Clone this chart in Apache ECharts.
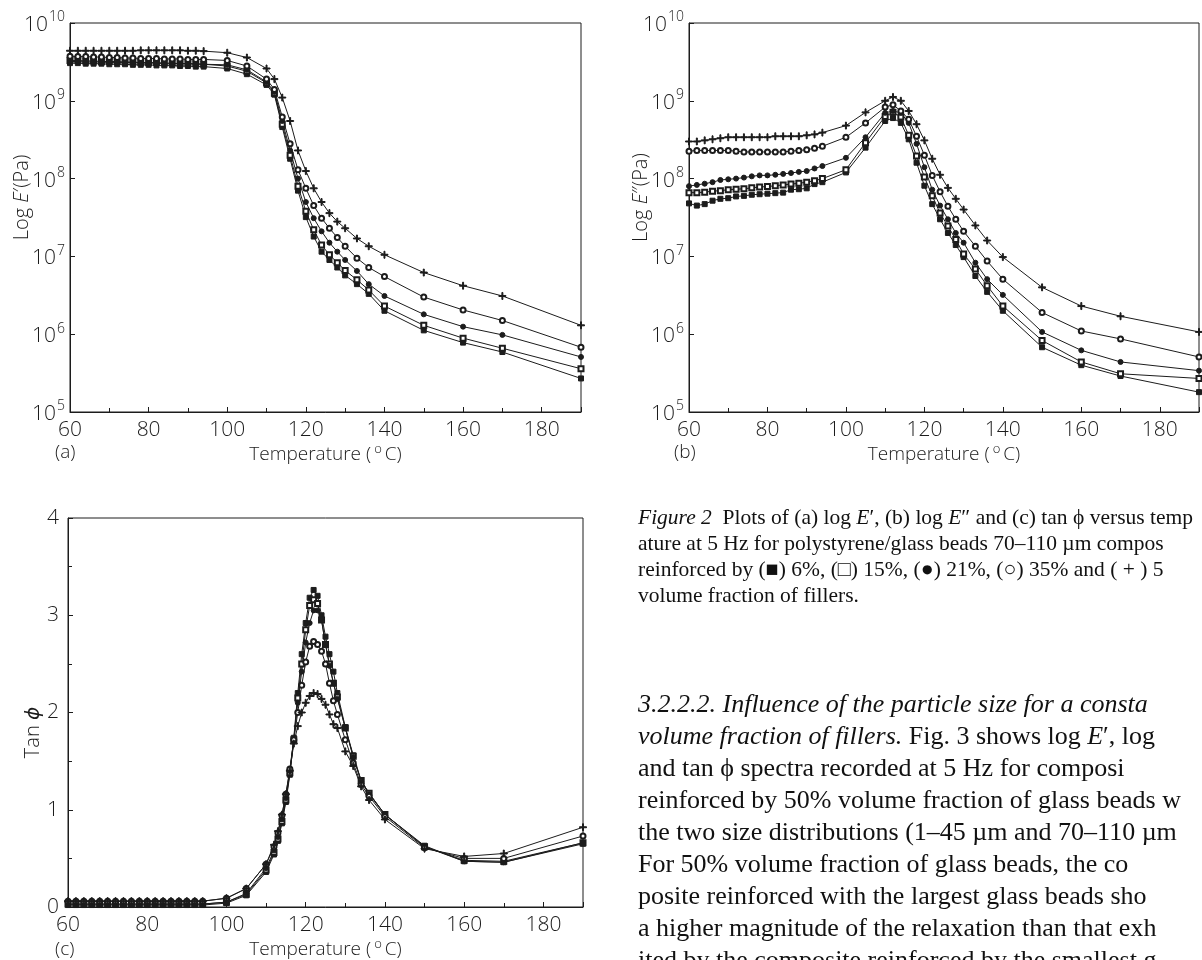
<!DOCTYPE html>
<html>
<head>
<meta charset="utf-8">
<script src="https://cdn.jsdelivr.net/npm/echarts@6/dist/echarts.min.js"></script>
<style>
  html, body { margin: 0; padding: 0; background: #fff; }
  #chart { width: 1202px; height: 960px; }
</style>
</head>
<body>
<div id="chart"></div>
<script>
// Temperatures (°C) of the measurement points, panels (a) and (b)
const tempAB = [60,62,64,66,68,70,72,74,76,78,80,82,84,86,88,90,92,94,
  100,105,110,112,114,116,118,120,122,124,126,128,130,133,136,140,150,160,170,190];

// Storage modulus E' (Pa) for 6, 15, 21, 35 and 50 % glass beads
const ePrime6 = [3.05e9,3.05e9,3.0e9,3.0e9,3.0e9,2.95e9,2.95e9,2.95e9,2.9e9,2.9e9,2.9e9,2.85e9,2.85e9,2.85e9,2.8e9,2.8e9,2.75e9,2.75e9,
  2.6e9,2.2e9,1.6e9,1.2e9,4.6e8,1.8e8,7.0e7,3.2e7,1.8e7,1.15e7,9.0e6,7.2e6,5.7e6,4.4e6,3.3e6,2.0e6,1.12e6,7.8e5,5.9e5,2.7e5];
const ePrime15 = [3.3e9,3.3e9,3.25e9,3.25e9,3.2e9,3.2e9,3.2e9,3.15e9,3.15e9,3.1e9,3.1e9,3.1e9,3.05e9,3.05e9,3.0e9,3.0e9,3.0e9,2.95e9,
  2.8e9,2.4e9,1.7e9,1.25e9,5.0e8,2.0e8,8.0e7,3.8e7,2.2e7,1.4e7,1.05e7,8.3e6,6.6e6,5.0e6,3.7e6,2.3e6,1.3e6,8.9e5,6.6e5,3.6e5];
const ePrime21 = [3.2e9,3.2e9,3.15e9,3.15e9,3.15e9,3.1e9,3.1e9,3.1e9,3.1e9,3.05e9,3.05e9,3.05e9,3.0e9,3.0e9,3.0e9,3.0e9,2.95e9,2.95e9,
  2.9e9,2.5e9,1.75e9,1.3e9,5.5e8,2.3e8,1.0e8,5.0e7,3.1e7,2.1e7,1.5e7,1.15e7,9.0e6,6.5e6,4.4e6,3.1e6,1.8e6,1.25e6,9.8e5,5.1e5];
const ePrime35 = [3.75e9,3.7e9,3.7e9,3.65e9,3.65e9,3.6e9,3.6e9,3.55e9,3.55e9,3.5e9,3.5e9,3.5e9,3.45e9,3.45e9,3.45e9,3.4e9,3.4e9,3.4e9,
  3.3e9,2.8e9,1.9e9,1.4e9,6.2e8,2.8e8,1.3e8,7.5e7,4.5e7,3.1e7,2.3e7,1.75e7,1.35e7,9.5e6,7.2e6,5.5e6,3.0e6,2.05e6,1.5e6,6.8e5];
const ePrime50 = [4.4e9,4.4e9,4.4e9,4.4e9,4.4e9,4.4e9,4.4e9,4.4e9,4.4e9,4.45e9,4.45e9,4.45e9,4.45e9,4.45e9,4.45e9,4.4e9,4.4e9,4.35e9,
  4.15e9,3.6e9,2.6e9,1.9e9,1.1e9,5.5e8,2.3e8,1.25e8,7.5e7,5.0e7,3.6e7,2.8e7,2.3e7,1.7e7,1.35e7,1.05e7,6.2e6,4.2e6,3.1e6,1.3e6];

// Loss modulus E'' (Pa)
const eDouble6 = [4.8e7,4.5e7,4.7e7,5.2e7,5.5e7,5.6e7,5.9e7,6.0e7,6.2e7,6.3e7,6.4e7,6.5e7,6.6e7,7.2e7,7.3e7,7.5e7,8.5e7,9.0e7,
  1.2e8,2.5e8,5.5e8,6.0e8,5.2e8,3.2e8,1.6e8,8.1e7,4.7e7,3.0e7,2.0e7,1.4e7,9.8e6,5.6e6,3.5e6,2.0e6,6.8e5,4.0e5,2.9e5,1.8e5];
const eDouble15 = [6.6e7,6.6e7,6.7e7,6.9e7,7.0e7,7.2e7,7.3e7,7.4e7,7.6e7,7.8e7,7.9e7,8.1e7,8.3e7,8.5e7,8.7e7,9.0e7,9.4e7,1.0e8,
  1.3e8,2.9e8,6.3e8,7.1e8,6.2e8,3.6e8,1.95e8,1.05e8,6.0e7,3.6e7,2.45e7,1.65e7,1.07e7,6.9e6,4.2e6,2.3e6,8.3e5,4.4e5,3.1e5,2.7e5];
const eDouble21 = [8.0e7,8.3e7,8.6e7,9.0e7,9.6e7,9.8e7,1.0e8,1.03e8,1.07e8,1.1e8,1.1e8,1.12e8,1.15e8,1.18e8,1.22e8,1.25e8,1.35e8,1.45e8,
  1.85e8,3.4e8,7.0e8,7.4e8,7.0e8,5.2e8,2.8e8,1.4e8,7.2e7,4.5e7,3.0e7,2.0e7,1.5e7,8.3e6,5.1e6,3.2e6,1.07e6,6.2e5,4.4e5,3.4e5];
const eDouble35 = [2.25e8,2.3e8,2.3e8,2.3e8,2.3e8,2.3e8,2.25e8,2.2e8,2.2e8,2.2e8,2.2e8,2.2e8,2.2e8,2.25e8,2.3e8,2.35e8,2.45e8,2.6e8,
  3.4e8,5.2e8,8.3e8,8.9e8,7.4e8,5.8e8,3.5e8,2.0e8,1.1e8,6.8e7,4.4e7,3.0e7,2.1e7,1.35e7,8.7e6,5.1e6,1.9e6,1.1e6,8.7e5,5.1e5];
const eDouble50 = [3.0e8,3.0e8,3.1e8,3.2e8,3.3e8,3.4e8,3.4e8,3.4e8,3.4e8,3.4e8,3.4e8,3.5e8,3.5e8,3.5e8,3.5e8,3.6e8,3.7e8,3.9e8,
  4.8e8,7.1e8,1.0e9,1.12e9,1.0e9,7.4e8,5.0e8,3.1e8,1.8e8,1.12e8,7.6e7,5.5e7,4.0e7,2.5e7,1.6e7,9.8e6,4.0e6,2.3e6,1.7e6,1.07e6];

// Temperatures (°C) for the loss tangent, panel (c)
const tempC = [60,62,64,66,68,70,72,74,76,78,80,82,84,86,88,90,92,94,
  100,105,110,112,113,114,115,116,117,118,119,120,121,122,123,124,125,126,127,128,130,132,134,136,140,150,160,170,190];

// tan φ
const tan6 = [0.02,0.02,0.02,0.02,0.02,0.02,0.02,0.02,0.02,0.02,0.02,0.02,0.02,0.02,0.02,0.02,0.02,0.02,
  0.04,0.12,0.36,0.54,0.68,0.86,1.08,1.36,1.74,2.2,2.6,2.92,3.18,3.26,3.2,3.0,2.78,2.6,2.42,2.2,1.85,1.56,1.3,1.17,0.95,0.63,0.47,0.46,0.65];
const tan15 = [0.03,0.03,0.03,0.03,0.03,0.03,0.03,0.03,0.03,0.03,0.03,0.03,0.03,0.03,0.03,0.03,0.03,0.03,
  0.05,0.13,0.38,0.56,0.70,0.88,1.10,1.38,1.72,2.15,2.5,2.85,3.1,3.16,3.12,2.95,2.7,2.5,2.3,2.16,1.84,1.55,1.3,1.17,0.95,0.62,0.48,0.47,0.66];
const tan21 = [0.03,0.03,0.03,0.03,0.03,0.03,0.03,0.03,0.03,0.03,0.03,0.03,0.03,0.03,0.03,0.03,0.03,0.03,
  0.05,0.14,0.40,0.58,0.72,0.90,1.12,1.40,1.72,2.1,2.42,2.72,2.92,3.05,3.05,2.95,2.7,2.48,2.3,2.14,1.84,1.54,1.29,1.16,0.95,0.62,0.47,0.46,0.66];
const tan35 = [0.06,0.06,0.06,0.06,0.06,0.06,0.06,0.06,0.06,0.06,0.06,0.06,0.06,0.06,0.06,0.06,0.06,0.06,
  0.09,0.19,0.44,0.62,0.76,0.94,1.16,1.42,1.72,2.0,2.28,2.52,2.68,2.73,2.70,2.63,2.5,2.3,2.12,1.98,1.72,1.48,1.26,1.14,0.93,0.61,0.50,0.50,0.73];
const tan50 = [0.06,0.06,0.06,0.06,0.06,0.06,0.06,0.06,0.06,0.06,0.06,0.06,0.06,0.06,0.06,0.06,0.06,0.06,
  0.09,0.19,0.44,0.64,0.78,0.95,1.16,1.40,1.68,1.86,2.0,2.1,2.17,2.2,2.19,2.14,2.08,1.98,1.88,1.84,1.6,1.45,1.24,1.1,0.9,0.60,0.52,0.55,0.82];

// Axis tick values
const tempTicks = [60, 80, 100, 120, 140, 160, 180];
const tanTicks = [0, 1, 2, 3, 4];

// Caption and running text
const captionLines = [
  '{i|Figure 2}  Plots of (a) log {i|E}′, (b) log {i|E}″ and (c) tan ϕ versus temp',
  'ature at 5 Hz for polystyrene/glass beads 70–110 µm compos',
  'reinforced by (■) 6%, (□) 15%, (●) 21%, (○) 35% and ( + ) 5',
  'volume fraction of fillers.'
];
const bodyLines = [
  '{i|3.2.2.2. Influence of the particle size for a consta}',
  '{i|volume fraction of fillers.} Fig. 3 shows log {i|E}′, log',
  'and tan ϕ spectra recorded at 5 Hz for composi',
  'reinforced by 50% volume fraction of glass beads w',
  'the two size distributions (1–45 µm and 70–110 µm',
  'For 50% volume fraction of glass beads, the co',
  'posite reinforced with the largest glass beads sho',
  'a higher magnitude of the relaxation than that exh',
  'ited by the composite reinforced by the smallest g'
];

const INK = '#1c1c1c';
const FONT = '"Open Sans", "DejaVu Sans", sans-serif';
const SERIF = '"Liberation Serif", "DejaVu Serif", serif';

const markers = [
  { symbol: 'rect', size: 5 },
  { symbol: 'emptyRect', size: 5 },
  { symbol: 'circle', size: 5 },
  { symbol: 'emptyCircle', size: 5 },
  { symbol: 'path://M4.3,0H5.7V10H4.3Z M0,4.3H10V5.7H0Z', size: 7 }
];
const labels = ['6%', '15%', '21%', '35%', '50%'];

function makeSeries(axisIdx, temps, sets) {
  return sets.map((vals, k) => ({
    type: 'line',
    name: labels[k],
    xAxisIndex: axisIdx,
    yAxisIndex: axisIdx,
    data: temps.map((t, i) => [t, vals[i]]),
    symbol: markers[k].symbol,
    symbolSize: markers[k].size,
    showAllSymbol: true,
    lineStyle: { color: INK, width: 1 },
    itemStyle: { color: INK, borderColor: INK, borderWidth: 1 },
    emphasis: { disabled: true },
    z: 3
  }));
}

function xAxisFor(gridIndex) {
  return {
    gridIndex,
    type: 'value',
    min: 60, max: 190, interval: 20,
    axisLine: { show: true, lineStyle: { color: INK, width: 1 } },
    axisTick: { show: true, inside: true, length: 5, lineStyle: { color: INK } },
    minorTick: { show: true, splitNumber: 2, length: 4, lineStyle: { color: INK } },
    splitLine: { show: false },
    axisLabel: {
      color: INK, fontFamily: FONT, fontSize: 21, fontWeight: 300, margin: 8,
      formatter: v => (tempTicks.indexOf(v) >= 0 ? String(v) : '')
    },
    name: 'Temperature ({o|o}C)',
    nameLocation: 'middle',
    nameGap: 31,
    nameMoveOverlap: false,
    nameTextStyle: {
      color: INK, fontFamily: FONT, fontSize: 19, fontWeight: 300,
      rich: {
        o: { fontSize: 13, fontFamily: FONT, fontWeight: 300, color: INK, padding: [0, 3, 10, 3], verticalAlign: 'bottom' }
      }
    }
  };
}

function logAxisFor(gridIndex, nameText) {
  return {
    gridIndex,
    type: 'log',
    logBase: 10,
    min: 1e5, max: 1e10,
    splitNumber: 5,
    axisLine: { show: true, lineStyle: { color: INK, width: 1 } },
    axisTick: { show: true, inside: true, length: 5, lineStyle: { color: INK } },
    splitLine: { show: false },
    axisLabel: {
      margin: 5,
      formatter: v => '{b|10}{s|' + Math.round(Math.log10(v)) + '}',
      rich: {
        b: { fontFamily: FONT, fontSize: 21, fontWeight: 300, color: INK, verticalAlign: 'bottom' },
        s: { fontFamily: FONT, fontSize: 14, fontWeight: 300, color: INK, padding: [0, 0, 11, 1], verticalAlign: 'bottom' }
      }
    },
    name: nameText,
    nameLocation: 'middle',
    nameGap: 38,
    nameMoveOverlap: false,
    nameRotate: 90,
    nameTextStyle: {
      padding: [0, 0, 0, 40],
      rich: {
        n: { fontFamily: FONT, fontSize: 20, fontWeight: 300, color: INK },
        i: { fontFamily: FONT, fontSize: 20, fontWeight: 300, fontStyle: 'italic', color: INK }
      }
    }
  };
}

const graphics = [];
[['(a)', 55, 453], ['(b)', 674, 453], ['(c)', 55, 950]].forEach(([t, x, y]) => {
  graphics.push({
    type: 'text', x, y,
    style: { text: t, fill: INK, fontFamily: FONT, fontSize: 19, fontWeight: 300, align: 'left', verticalAlign: 'middle' }
  });
});
captionLines.forEach((line, k) => {
  graphics.push({
    type: 'text', x: 638, y: 518 + k * 26,
    style: {
      text: line, fill: '#111', fontFamily: SERIF, fontSize: 21.5, align: 'left', verticalAlign: 'middle',
      rich: {
        i: { fontFamily: SERIF, fontSize: 21.5, fontStyle: 'italic', fill: '#111' }
      }
    }
  });
});
bodyLines.forEach((line, k) => {
  graphics.push({
    type: 'text', x: 638, y: 705 + k * 32,
    style: {
      text: line, fill: '#111', fontFamily: SERIF, fontSize: 26, align: 'left', verticalAlign: 'middle',
      rich: {
        i: { fontFamily: SERIF, fontSize: 26, fontStyle: 'italic', fill: '#111' }
      }
    }
  });
});

const tanAxis = {
  gridIndex: 2,
  type: 'value',
  min: 0, max: 4, interval: 1,
  axisLine: { show: true, lineStyle: { color: INK, width: 1 } },
  axisTick: { show: true, inside: true, length: 5, lineStyle: { color: INK } },
  minorTick: { show: true, splitNumber: 2, length: 4, lineStyle: { color: INK } },
  splitLine: { show: false },
  axisLabel: {
    color: INK, fontFamily: FONT, fontSize: 21, fontWeight: 300, margin: 9,
    formatter: v => (tanTicks.indexOf(v) >= 0 ? String(v) : '')
  },
  name: '{n|Tan }{i|ϕ}',
  nameLocation: 'middle',
  nameGap: 25,
  nameMoveOverlap: false,
  nameRotate: 90,
  nameTextStyle: {
    padding: [0, 40, 0, 0],
    rich: {
      n: { fontFamily: FONT, fontSize: 20, fontWeight: 300, color: INK },
      i: { fontFamily: FONT, fontSize: 20, fontWeight: 300, fontStyle: 'italic', color: INK }
    }
  }
};

const option = {
  backgroundColor: '#fff',
  animation: false,
  grid: [
    { left: 70, top: 23, width: 511, height: 389, show: true, borderColor: INK, borderWidth: 1, containLabel: false },
    { left: 689, top: 23, width: 511, height: 389, show: true, borderColor: INK, borderWidth: 1, containLabel: false },
    { left: 68, top: 518, width: 515, height: 390, show: true, borderColor: INK, borderWidth: 1, containLabel: false }
  ],
  xAxis: [xAxisFor(0), xAxisFor(1), xAxisFor(2)],
  yAxis: [
    logAxisFor(0, '{n|Log }{i|E}{n|′(Pa)}'),
    logAxisFor(1, '{n|Log }{i|E}{n|″(Pa)}'),
    tanAxis
  ],
  series: [
    ...makeSeries(0, tempAB, [ePrime6, ePrime15, ePrime21, ePrime35, ePrime50]),
    ...makeSeries(1, tempAB, [eDouble6, eDouble15, eDouble21, eDouble35, eDouble50]),
    ...makeSeries(2, tempC, [tan6, tan15, tan21, tan35, tan50])
  ],
  graphic: graphics
};

const chart = echarts.init(document.getElementById('chart'), null, { renderer: 'canvas' });
chart.setOption(option);
</script>
</body>
</html>
